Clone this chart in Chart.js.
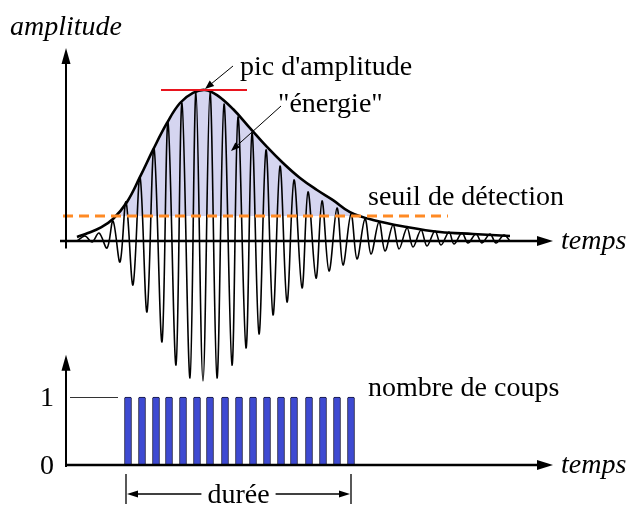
<!DOCTYPE html>
<html><head><meta charset="utf-8">
<script src="https://cdn.jsdelivr.net/npm/chart.js@4.4.0/dist/chart.umd.min.js"></script>
<style>html,body{margin:0;padding:0;background:#fff;} #wrap{position:relative;width:627px;height:505px;} canvas{display:block}
.pre{font-family:"Liberation Serif";position:absolute;left:-999px;top:0}
</style>
</head><body><div id="wrap"><canvas id="c" width="627" height="505"></canvas></div>
<span class="pre">é</span><span class="pre" style="font-style:italic">temps</span>
<script>
// ---- data (time in arbitrary units, amplitude in arbitrary units) ----
const waveT = [1.1,1.9,2.6,3.3,4.1,4.7,5.4,6.0,6.7,7.4,8.1,8.8,9.6,10.2,11.0,11.6,12.4,13.0,13.7,14.4,15.1,15.8,16.6,17.2,18.0,18.6,19.3,20.0,20.7,21.4,22.1,22.8,23.6,24.2,25.0,25.6,26.3,27.1,27.7,28.5,29.1,29.9,30.5,31.3,31.9,32.7,33.3,34.1,34.7,35.5,36.1,36.9,37.5,38.3,38.8,39.6,40.2,41.0,41.6,42.4,43.0,43.8,44.4];
const waveA = [0,0.33,-0.07,0.53,-0.47,1.33,-1.4,2.6,-2.93,4.27,-4.73,6.2,-6.73,7.93,-8.27,9.2,-9.13,9.93,-9.33,9.93,-9.13,9.13,-8.27,8.27,-7.13,7.2,-6.2,6.07,-4.93,5.0,-4.07,4.07,-3.13,3.27,-2.47,2.67,-2.0,2.2,-1.6,1.8,-1.2,1.47,-0.87,1.27,-0.67,1.07,-0.53,0.87,-0.4,0.73,-0.33,0.67,-0.27,0.6,-0.2,0.53,-0.13,0.47,-0.13,0.47,-0.13,0.4,0];
const envT = [1.1,2.2,3.4,4.7,6.1,7.4,8.7,10.1,11.4,12.7,13.9,15.1,16.7,18.4,20.1,21.7,23.4,25.1,26.7,28.4,30.7,34.1,37.4,40.7,44.4];
const envA = [0.27,0.53,0.87,1.47,2.6,4.27,6.07,7.87,9.2,9.87,10.07,9.73,8.8,7.53,6.27,5.2,4.2,3.4,2.73,1.93,1.4,0.93,0.6,0.47,0.33];
const threshold = 1.67;
const thresholdT = [-0.3, 38.2];
const peakAmp = 10.07;
const peakLineT = [9.5, 18.1];
const hitT = [6.2,7.6,9.0,10.3,11.7,13.1,14.4,15.9,17.3,18.7,20.1,21.5,22.8,24.3,25.7,27.1,28.5];
const hitCount = [1,1,1,1,1,1,1,1,1,1,1,1,1,1,1,1,1];
const countTicks = [0, 1];
const labels = {
  ampAxis: 'amplitude', time: 'temps', peak: "pic d'amplitude", energy: '"énergie"',
  threshold: 'seuil de détection', counts: 'nombre de coups', duration: 'durée'
};

const zip = (xs, ys) => xs.map((x, i) => ({x, y: ys[i]}));

const SERIF = '"Liberation Serif", "Times New Roman", Tinos, "DejaVu Serif", serif';

function arrowHead(ctx, x1, y1, x2, y2, len, wid) {
  const ang = Math.atan2(y2 - y1, x2 - x1);
  ctx.beginPath();
  ctx.moveTo(x2, y2);
  ctx.lineTo(x2 - len * Math.cos(ang) + wid * Math.sin(ang), y2 - len * Math.sin(ang) - wid * Math.cos(ang));
  ctx.lineTo(x2 - len * Math.cos(ang) - wid * Math.sin(ang), y2 - len * Math.sin(ang) + wid * Math.cos(ang));
  ctx.closePath();
  ctx.fill();
}
function arrow(ctx, x1, y1, x2, y2, lw, len, wid) {
  const ang = Math.atan2(y2 - y1, x2 - x1);
  ctx.lineWidth = lw;
  ctx.beginPath();
  ctx.moveTo(x1, y1);
  ctx.lineTo(x2 - len * 0.8 * Math.cos(ang), y2 - len * 0.8 * Math.sin(ang));
  ctx.stroke();
  arrowHead(ctx, x1, y1, x2, y2, len, wid);
}

const decor = {
  id: 'decor',
  afterDatasetsDraw(chart) {
    const ctx = chart.ctx;
    const X = chart.scales.x, Y = chart.scales.y, Y2 = chart.scales.y2;
    ctx.save();
    ctx.strokeStyle = '#000'; ctx.fillStyle = '#000';
    const x0 = X.getPixelForValue(0);
    const xEnd = X.getPixelForValue(48.7);
    const yb = Y.getPixelForValue(0);
    arrow(ctx, x0, Y.getPixelForValue(-0.5), x0, Y.getPixelForValue(12.87), 2, 16, 4.5);
    arrow(ctx, X.getPixelForValue(-0.6), yb, xEnd, yb, 2.4, 16, 5);
    const yb2 = Y2.getPixelForValue(0);
    arrow(ctx, x0, Y2.getPixelForValue(-0.03), x0, Y2.getPixelForValue(1.62), 2, 16, 4.5);
    arrow(ctx, x0, yb2, xEnd, yb2, 2.4, 16, 5);
    const y1 = Y2.getPixelForValue(1);
    ctx.lineWidth = 1; ctx.strokeStyle = '#333';
    ctx.beginPath(); ctx.moveTo(x0 + 4, y1 + 0.5); ctx.lineTo(x0 + 52, y1 + 0.5); ctx.stroke();

    ctx.fillStyle = '#000';
    ctx.textBaseline = 'alphabetic';
    ctx.font = 'italic 28px ' + SERIF;
    ctx.textAlign = 'left';
    ctx.fillText(labels.ampAxis, 10, 35);
    ctx.fillText(labels.time, xEnd + 8, yb + 8);
    ctx.fillText(labels.time, xEnd + 8, yb2 + 8);
    ctx.font = '28px ' + SERIF;
    ctx.fillText(labels.peak, 240, 75);
    ctx.fillText(labels.energy, 278, 112);
    ctx.fillText(labels.threshold, 368, 205);
    ctx.fillText(labels.counts, 368, 396);
    ctx.textAlign = 'center';
    countTicks.forEach(v => ctx.fillText(String(v), 47, Y2.getPixelForValue(v) + 9));

    ctx.strokeStyle = '#000'; ctx.fillStyle = '#000';
    arrow(ctx, 233, 66, X.getPixelForValue(13.9), Y.getPixelForValue(peakAmp) - 1, 1, 9, 3.5);
    arrow(ctx, 281, 106, 231, 151, 1, 9, 3.5);

    const xa = X.getPixelForValue(hitT[0] - 0.2), xbE = X.getPixelForValue(hitT[hitT.length - 1]);
    ctx.lineWidth = 1.3;
    ctx.beginPath();
    ctx.moveTo(xa, 474); ctx.lineTo(xa, 504);
    ctx.moveTo(xbE, 474); ctx.lineTo(xbE, 504);
    ctx.stroke();
    const mid = (xa + xbE) / 2;
    ctx.font = '28px ' + SERIF;
    const w = ctx.measureText(labels.duration).width;
    arrow(ctx, mid - w / 2 - 6, 494, xa + 1, 494, 1.3, 11, 3.5);
    arrow(ctx, mid + w / 2 + 6, 494, xbE - 1, 494, 1.3, 11, 3.5);
    ctx.textAlign = 'center';
    ctx.fillText(labels.duration, mid, 503);
    ctx.restore();
  }
};

function build() {
  new Chart(document.getElementById('c'), {
    type: 'line',
    data: {
      datasets: [
        { label: 'fill', data: zip(envT, envA), borderWidth: 0, pointRadius: 0, tension: 0.4,
          fill: { target: { value: threshold }, above: '#d5d5f0', below: 'rgba(0,0,0,0)' }, order: 10 },
        { label: 'signal', data: zip(waveT, waveA), borderColor: '#000', borderWidth: 1.6, pointRadius: 0,
          tension: 0.35, fill: false, order: 6 },
        { label: 'envelope', data: zip(envT, envA), borderColor: '#000', borderWidth: 2.6, pointRadius: 0,
          tension: 0.4, fill: false, order: 5 },
        { label: 'seuil', data: zip(thresholdT, [threshold, threshold]), borderColor: '#ff8a24', borderWidth: 3,
          borderDash: [10, 6], pointRadius: 0, fill: false, order: 3 },
        { label: 'pic', data: zip(peakLineT, [peakAmp, peakAmp]), borderColor: '#e8141e', borderWidth: 2,
          pointRadius: 0, fill: false, order: 2 },
        { type: 'bar', label: 'coups', data: zip(hitT, hitCount), yAxisID: 'y2', backgroundColor: '#3e4ad2',
          borderColor: '#14143c', borderWidth: 1, barThickness: 7, borderRadius: 1.5, borderSkipped: 'bottom',
          grouped: false, order: 1 }
      ]
    },
    options: {
      responsive: false, animation: false,
      layout: { padding: 0 },
      plugins: { legend: { display: false }, tooltip: { enabled: false } },
      scales: {
        x: { type: 'linear', display: false, offset: false, min: -6.6, max: 56.1 },
        y: { type: 'linear', display: false, min: -17.6, max: 16.067 },
        y2: { type: 'linear', display: false, min: -0.588, max: 6.838 }
      }
    },
    plugins: [decor]
  });
}
if (document.fonts && document.fonts.load) {
  Promise.all([
    document.fonts.load('28px "Liberation Serif"'),
    document.fonts.load('italic 28px "Liberation Serif"')
  ]).then(build, build);
} else build();
</script></body></html>
